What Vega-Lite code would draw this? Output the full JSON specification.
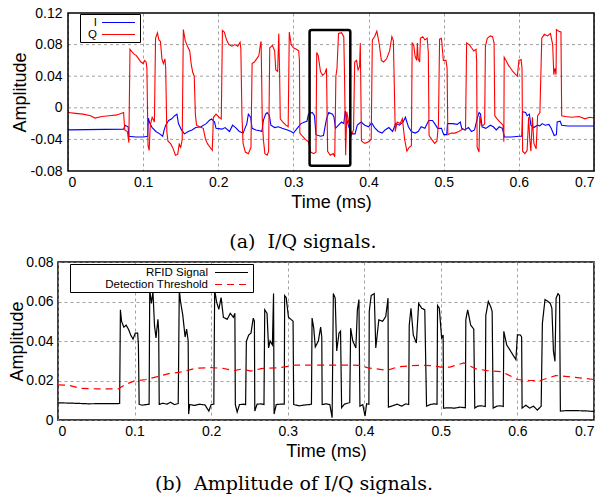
{
"$schema": "https://vega.github.io/schema/vega-lite/v6.json",
"background": "white",
"padding": {"left": 7, "top": 6, "right": 0, "bottom": 0},
"columns": 1,
"spacing": 2,
"resolve": {"scale": {"color": "independent", "strokeDash": "independent"}, "legend": {"color": "independent", "strokeDash": "independent"}},
"config": {
  "view": {"stroke": "black", "strokeWidth": 1.5},
  "axis": {"labelFont": "Liberation Sans", "labelFontSize": 14, "labelColor": "black", "titleFont": "Liberation Sans", "titleFontSize": 18, "titleFontWeight": "normal", "titleColor": "black", "domain": false, "ticks": false, "tickSize": 0, "labelOverlap": false, "grid": true, "gridColor": "#8a8a8a", "gridDash": [3, 3], "gridWidth": 0.8, "labelPadding": 4},
  "legend": {"labelFont": "Liberation Sans", "labelFontSize": 11.5, "labelColor": "black", "fillColor": "white", "strokeColor": "black", "padding": 2, "rowPadding": 0, "symbolType": "M-3,0H3", "symbolSize": 121, "symbolStrokeWidth": 1.2, "labelAlign": "right", "title": null},
  "title": {"font": "DejaVu Serif", "fontSize": 19, "fontWeight": "normal", "color": "black", "orient": "bottom", "frame": "bounds", "anchor": "middle"}
},
"datasets": {
  "iq": [
{"t":0,"v":-0.028,"s":"I"},{"t":0.074,"v":-0.027,"s":"I"},{"t":0.076,"v":-0.022,"s":"I"},{"t":0.080,"v":-0.024,"s":"I"},{"t":0.081,"v":-0.036,"s":"I"},{"t":0.090,"v":-0.037,"s":"I"},{"t":0.100,"v":-0.037,"s":"I"},{"t":0.106,"v":-0.036,"s":"I"},{"t":0.107,"v":-0.013,"s":"I"},{"t":0.109,"v":-0.020,"s":"I"},{"t":0.112,"v":-0.025,"s":"I"},{"t":0.117,"v":-0.030,"s":"I"},{"t":0.122,"v":-0.033,"s":"I"},{"t":0.126,"v":-0.036,"s":"I"},{"t":0.128,"v":-0.028,"s":"I"},{"t":0.130,"v":-0.022,"s":"I"},{"t":0.134,"v":-0.016,"s":"I"},{"t":0.138,"v":-0.014,"s":"I"},{"t":0.142,"v":-0.010,"s":"I"},{"t":0.145,"v":-0.008,"s":"I"},{"t":0.147,"v":-0.020,"s":"I"},{"t":0.151,"v":-0.028,"s":"I"},{"t":0.155,"v":-0.033,"s":"I"},{"t":0.160,"v":-0.030,"s":"I"},{"t":0.165,"v":-0.028,"s":"I"},{"t":0.170,"v":-0.025,"s":"I"},{"t":0.177,"v":-0.024,"s":"I"},{"t":0.184,"v":-0.020,"s":"I"},{"t":0.188,"v":-0.016,"s":"I"},{"t":0.191,"v":-0.014,"s":"I"},{"t":0.195,"v":-0.018,"s":"I"},{"t":0.197,"v":-0.026,"s":"I"},{"t":0.205,"v":-0.027,"s":"I"},{"t":0.209,"v":-0.025,"s":"I"},{"t":0.215,"v":-0.030,"s":"I"},{"t":0.219,"v":-0.022,"s":"I"},{"t":0.223,"v":-0.025,"s":"I"},{"t":0.228,"v":-0.030,"s":"I"},{"t":0.233,"v":-0.032,"s":"I"},{"t":0.238,"v":-0.020,"s":"I"},{"t":0.240,"v":-0.008,"s":"I"},{"t":0.243,"v":-0.012,"s":"I"},{"t":0.245,"v":-0.026,"s":"I"},{"t":0.250,"v":-0.028,"s":"I"},{"t":0.255,"v":-0.029,"s":"I"},{"t":0.258,"v":-0.030,"s":"I"},{"t":0.260,"v":-0.016,"s":"I"},{"t":0.263,"v":-0.008,"s":"I"},{"t":0.265,"v":-0.006,"s":"I"},{"t":0.268,"v":-0.010,"s":"I"},{"t":0.270,"v":-0.022,"s":"I"},{"t":0.275,"v":-0.025,"s":"I"},{"t":0.280,"v":-0.024,"s":"I"},{"t":0.285,"v":-0.026,"s":"I"},{"t":0.292,"v":-0.028,"s":"I"},{"t":0.297,"v":-0.030,"s":"I"},{"t":0.300,"v":-0.032,"s":"I"},{"t":0.305,"v":-0.026,"s":"I"},{"t":0.310,"v":-0.020,"s":"I"},{"t":0.315,"v":-0.018,"s":"I"},{"t":0.318,"v":-0.017,"s":"I"},{"t":0.320,"v":-0.008,"s":"I"},{"t":0.325,"v":-0.006,"s":"I"},{"t":0.328,"v":-0.010,"s":"I"},{"t":0.330,"v":-0.034,"s":"I"},{"t":0.336,"v":-0.036,"s":"I"},{"t":0.340,"v":-0.035,"s":"I"},{"t":0.344,"v":-0.014,"s":"I"},{"t":0.347,"v":-0.006,"s":"I"},{"t":0.352,"v":-0.008,"s":"I"},{"t":0.354,"v":-0.012,"s":"I"},{"t":0.356,"v":-0.026,"s":"I"},{"t":0.360,"v":-0.022,"s":"I"},{"t":0.364,"v":-0.018,"s":"I"},{"t":0.367,"v":-0.020,"s":"I"},{"t":0.369,"v":-0.004,"s":"I"},{"t":0.371,"v":-0.015,"s":"I"},{"t":0.374,"v":-0.025,"s":"I"},{"t":0.378,"v":-0.033,"s":"I"},{"t":0.382,"v":-0.033,"s":"I"},{"t":0.385,"v":-0.022,"s":"I"},{"t":0.390,"v":-0.018,"s":"I"},{"t":0.395,"v":-0.022,"s":"I"},{"t":0.400,"v":-0.024,"s":"I"},{"t":0.404,"v":-0.019,"s":"I"},{"t":0.408,"v":-0.025,"s":"I"},{"t":0.413,"v":-0.030,"s":"I"},{"t":0.418,"v":-0.032,"s":"I"},{"t":0.422,"v":-0.028,"s":"I"},{"t":0.427,"v":-0.025,"s":"I"},{"t":0.432,"v":-0.030,"s":"I"},{"t":0.436,"v":-0.020,"s":"I"},{"t":0.441,"v":-0.022,"s":"I"},{"t":0.446,"v":-0.018,"s":"I"},{"t":0.449,"v":-0.012,"s":"I"},{"t":0.453,"v":-0.024,"s":"I"},{"t":0.457,"v":-0.030,"s":"I"},{"t":0.462,"v":-0.032,"s":"I"},{"t":0.466,"v":-0.030,"s":"I"},{"t":0.470,"v":-0.024,"s":"I"},{"t":0.475,"v":-0.026,"s":"I"},{"t":0.480,"v":-0.016,"s":"I"},{"t":0.485,"v":-0.016,"s":"I"},{"t":0.488,"v":-0.020,"s":"I"},{"t":0.492,"v":-0.026,"s":"I"},{"t":0.497,"v":-0.026,"s":"I"},{"t":0.500,"v":-0.034,"s":"I"},{"t":0.504,"v":-0.034,"s":"I"},{"t":0.505,"v":-0.020,"s":"I"},{"t":0.512,"v":-0.020,"s":"I"},{"t":0.518,"v":-0.021,"s":"I"},{"t":0.522,"v":-0.018,"s":"I"},{"t":0.524,"v":-0.026,"s":"I"},{"t":0.528,"v":-0.028,"s":"I"},{"t":0.533,"v":-0.025,"s":"I"},{"t":0.537,"v":-0.030,"s":"I"},{"t":0.541,"v":-0.028,"s":"I"},{"t":0.545,"v":-0.012,"s":"I"},{"t":0.547,"v":-0.006,"s":"I"},{"t":0.549,"v":-0.008,"s":"I"},{"t":0.551,"v":-0.024,"s":"I"},{"t":0.556,"v":-0.026,"s":"I"},{"t":0.562,"v":-0.022,"s":"I"},{"t":0.566,"v":-0.024,"s":"I"},{"t":0.570,"v":-0.028,"s":"I"},{"t":0.574,"v":-0.024,"s":"I"},{"t":0.578,"v":-0.026,"s":"I"},{"t":0.581,"v":-0.037,"s":"I"},{"t":0.590,"v":-0.037,"s":"I"},{"t":0.600,"v":-0.036,"s":"I"},{"t":0.604,"v":-0.036,"s":"I"},{"t":0.605,"v":-0.005,"s":"I"},{"t":0.609,"v":-0.006,"s":"I"},{"t":0.611,"v":-0.010,"s":"I"},{"t":0.614,"v":-0.008,"s":"I"},{"t":0.616,"v":-0.022,"s":"I"},{"t":0.620,"v":-0.025,"s":"I"},{"t":0.625,"v":-0.022,"s":"I"},{"t":0.628,"v":-0.023,"s":"I"},{"t":0.631,"v":-0.020,"s":"I"},{"t":0.635,"v":-0.022,"s":"I"},{"t":0.640,"v":-0.021,"s":"I"},{"t":0.643,"v":-0.026,"s":"I"},{"t":0.647,"v":-0.035,"s":"I"},{"t":0.650,"v":-0.034,"s":"I"},{"t":0.651,"v":-0.018,"s":"I"},{"t":0.655,"v":-0.017,"s":"I"},{"t":0.657,"v":-0.022,"s":"I"},{"t":0.665,"v":-0.023,"s":"I"},{"t":0.680,"v":-0.023,"s":"I"},{"t":0.700,"v":-0.023,"s":"I"},
{"t":0,"v":-0.006,"s":"Q"},{"t":0.010,"v":-0.007,"s":"Q"},{"t":0.020,"v":-0.008,"s":"Q"},{"t":0.030,"v":-0.010,"s":"Q"},{"t":0.036,"v":-0.013,"s":"Q"},{"t":0.045,"v":-0.011,"s":"Q"},{"t":0.055,"v":-0.010,"s":"Q"},{"t":0.065,"v":-0.009,"s":"Q"},{"t":0.074,"v":-0.006,"s":"Q"},{"t":0.0755,"v":-0.028,"s":"Q"},{"t":0.079,"v":-0.030,"s":"Q"},{"t":0.081,"v":-0.044,"s":"Q"},{"t":0.0825,"v":0.074,"s":"Q"},{"t":0.085,"v":0.071,"s":"Q"},{"t":0.088,"v":0.068,"s":"Q"},{"t":0.091,"v":0.066,"s":"Q"},{"t":0.094,"v":0.062,"s":"Q"},{"t":0.097,"v":0.058,"s":"Q"},{"t":0.100,"v":0.056,"s":"Q"},{"t":0.102,"v":0.060,"s":"Q"},{"t":0.104,"v":0.058,"s":"Q"},{"t":0.105,"v":0.050,"s":"Q"},{"t":0.1065,"v":-0.048,"s":"Q"},{"t":0.108,"v":-0.054,"s":"Q"},{"t":0.1095,"v":-0.022,"s":"Q"},{"t":0.112,"v":-0.012,"s":"Q"},{"t":0.115,"v":-0.018,"s":"Q"},{"t":0.1165,"v":0.088,"s":"Q"},{"t":0.119,"v":0.095,"s":"Q"},{"t":0.121,"v":0.086,"s":"Q"},{"t":0.123,"v":0.084,"s":"Q"},{"t":0.125,"v":0.062,"s":"Q"},{"t":0.127,"v":0.056,"s":"Q"},{"t":0.129,"v":0.062,"s":"Q"},{"t":0.130,"v":0.050,"s":"Q"},{"t":0.1315,"v":-0.030,"s":"Q"},{"t":0.133,"v":-0.042,"s":"Q"},{"t":0.137,"v":-0.046,"s":"Q"},{"t":0.140,"v":-0.052,"s":"Q"},{"t":0.143,"v":-0.060,"s":"Q"},{"t":0.146,"v":-0.059,"s":"Q"},{"t":0.148,"v":-0.046,"s":"Q"},{"t":0.150,"v":-0.050,"s":"Q"},{"t":0.152,"v":-0.040,"s":"Q"},{"t":0.1535,"v":0.099,"s":"Q"},{"t":0.156,"v":0.085,"s":"Q"},{"t":0.159,"v":0.078,"s":"Q"},{"t":0.162,"v":0.072,"s":"Q"},{"t":0.164,"v":0.055,"s":"Q"},{"t":0.166,"v":0.045,"s":"Q"},{"t":0.168,"v":0.040,"s":"Q"},{"t":0.1695,"v":-0.008,"s":"Q"},{"t":0.171,"v":-0.022,"s":"Q"},{"t":0.175,"v":-0.024,"s":"Q"},{"t":0.180,"v":-0.026,"s":"Q"},{"t":0.183,"v":-0.040,"s":"Q"},{"t":0.186,"v":-0.046,"s":"Q"},{"t":0.189,"v":-0.050,"s":"Q"},{"t":0.192,"v":-0.054,"s":"Q"},{"t":0.1935,"v":-0.012,"s":"Q"},{"t":0.197,"v":-0.008,"s":"Q"},{"t":0.201,"v":-0.012,"s":"Q"},{"t":0.204,"v":-0.014,"s":"Q"},{"t":0.2055,"v":0.098,"s":"Q"},{"t":0.208,"v":0.096,"s":"Q"},{"t":0.211,"v":0.086,"s":"Q"},{"t":0.214,"v":0.080,"s":"Q"},{"t":0.218,"v":0.078,"s":"Q"},{"t":0.222,"v":0.080,"s":"Q"},{"t":0.226,"v":0.078,"s":"Q"},{"t":0.229,"v":0.083,"s":"Q"},{"t":0.230,"v":0.075,"s":"Q"},{"t":0.2315,"v":-0.010,"s":"Q"},{"t":0.233,"v":-0.045,"s":"Q"},{"t":0.236,"v":-0.056,"s":"Q"},{"t":0.240,"v":-0.058,"s":"Q"},{"t":0.2435,"v":-0.050,"s":"Q"},{"t":0.245,"v":0.056,"s":"Q"},{"t":0.248,"v":0.058,"s":"Q"},{"t":0.251,"v":0.062,"s":"Q"},{"t":0.254,"v":0.066,"s":"Q"},{"t":0.256,"v":0.080,"s":"Q"},{"t":0.257,"v":0.084,"s":"Q"},{"t":0.2585,"v":-0.014,"s":"Q"},{"t":0.260,"v":-0.040,"s":"Q"},{"t":0.262,"v":-0.058,"s":"Q"},{"t":0.265,"v":-0.060,"s":"Q"},{"t":0.267,"v":-0.055,"s":"Q"},{"t":0.2685,"v":0.076,"s":"Q"},{"t":0.272,"v":0.079,"s":"Q"},{"t":0.275,"v":0.072,"s":"Q"},{"t":0.2765,"v":0.048,"s":"Q"},{"t":0.279,"v":0.046,"s":"Q"},{"t":0.2805,"v":0.094,"s":"Q"},{"t":0.2815,"v":0.050,"s":"Q"},{"t":0.2825,"v":-0.014,"s":"Q"},{"t":0.286,"v":-0.018,"s":"Q"},{"t":0.290,"v":-0.022,"s":"Q"},{"t":0.293,"v":-0.024,"s":"Q"},{"t":0.2945,"v":0.096,"s":"Q"},{"t":0.297,"v":0.080,"s":"Q"},{"t":0.300,"v":0.076,"s":"Q"},{"t":0.304,"v":0.074,"s":"Q"},{"t":0.307,"v":0.072,"s":"Q"},{"t":0.308,"v":0.060,"s":"Q"},{"t":0.3085,"v":-0.032,"s":"Q"},{"t":0.312,"v":-0.036,"s":"Q"},{"t":0.316,"v":-0.040,"s":"Q"},{"t":0.320,"v":-0.043,"s":"Q"},{"t":0.323,"v":-0.056,"s":"Q"},{"t":0.327,"v":-0.058,"s":"Q"},{"t":0.330,"v":-0.056,"s":"Q"},{"t":0.331,"v":0.070,"s":"Q"},{"t":0.333,"v":0.066,"s":"Q"},{"t":0.336,"v":0.046,"s":"Q"},{"t":0.339,"v":0.041,"s":"Q"},{"t":0.342,"v":0.044,"s":"Q"},{"t":0.344,"v":0.050,"s":"Q"},{"t":0.3455,"v":-0.055,"s":"Q"},{"t":0.349,"v":-0.060,"s":"Q"},{"t":0.353,"v":-0.058,"s":"Q"},{"t":0.355,"v":-0.062,"s":"Q"},{"t":0.3565,"v":0.040,"s":"Q"},{"t":0.358,"v":0.050,"s":"Q"},{"t":0.360,"v":0.094,"s":"Q"},{"t":0.364,"v":0.095,"s":"Q"},{"t":0.367,"v":0.090,"s":"Q"},{"t":0.368,"v":0.040,"s":"Q"},{"t":0.3695,"v":-0.060,"s":"Q"},{"t":0.371,"v":-0.005,"s":"Q"},{"t":0.374,"v":-0.020,"s":"Q"},{"t":0.377,"v":-0.035,"s":"Q"},{"t":0.380,"v":-0.028,"s":"Q"},{"t":0.3815,"v":0.058,"s":"Q"},{"t":0.384,"v":0.060,"s":"Q"},{"t":0.386,"v":0.048,"s":"Q"},{"t":0.388,"v":0.052,"s":"Q"},{"t":0.389,"v":0.082,"s":"Q"},{"t":0.3905,"v":-0.042,"s":"Q"},{"t":0.395,"v":-0.045,"s":"Q"},{"t":0.400,"v":-0.043,"s":"Q"},{"t":0.4035,"v":-0.040,"s":"Q"},{"t":0.405,"v":0.086,"s":"Q"},{"t":0.408,"v":0.090,"s":"Q"},{"t":0.411,"v":0.097,"s":"Q"},{"t":0.414,"v":0.082,"s":"Q"},{"t":0.417,"v":0.060,"s":"Q"},{"t":0.420,"v":0.058,"s":"Q"},{"t":0.424,"v":0.062,"s":"Q"},{"t":0.428,"v":0.072,"s":"Q"},{"t":0.431,"v":0.090,"s":"Q"},{"t":0.433,"v":0.085,"s":"Q"},{"t":0.4355,"v":-0.030,"s":"Q"},{"t":0.438,"v":-0.018,"s":"Q"},{"t":0.442,"v":-0.020,"s":"Q"},{"t":0.445,"v":-0.014,"s":"Q"},{"t":0.448,"v":-0.040,"s":"Q"},{"t":0.451,"v":-0.055,"s":"Q"},{"t":0.454,"v":-0.050,"s":"Q"},{"t":0.457,"v":-0.048,"s":"Q"},{"t":0.458,"v":0.082,"s":"Q"},{"t":0.460,"v":0.080,"s":"Q"},{"t":0.462,"v":0.065,"s":"Q"},{"t":0.464,"v":0.060,"s":"Q"},{"t":0.465,"v":0.082,"s":"Q"},{"t":0.466,"v":0.062,"s":"Q"},{"t":0.468,"v":0.058,"s":"Q"},{"t":0.469,"v":0.088,"s":"Q"},{"t":0.472,"v":0.090,"s":"Q"},{"t":0.475,"v":0.086,"s":"Q"},{"t":0.478,"v":0.088,"s":"Q"},{"t":0.4795,"v":0.070,"s":"Q"},{"t":0.4805,"v":-0.035,"s":"Q"},{"t":0.484,"v":-0.040,"s":"Q"},{"t":0.488,"v":-0.045,"s":"Q"},{"t":0.491,"v":-0.042,"s":"Q"},{"t":0.493,"v":-0.020,"s":"Q"},{"t":0.4945,"v":0.087,"s":"Q"},{"t":0.497,"v":0.088,"s":"Q"},{"t":0.4995,"v":0.060,"s":"Q"},{"t":0.503,"v":0.060,"s":"Q"},{"t":0.5045,"v":0.050,"s":"Q"},{"t":0.5055,"v":-0.034,"s":"Q"},{"t":0.510,"v":-0.032,"s":"Q"},{"t":0.515,"v":-0.032,"s":"Q"},{"t":0.520,"v":-0.030,"s":"Q"},{"t":0.525,"v":-0.027,"s":"Q"},{"t":0.529,"v":-0.028,"s":"Q"},{"t":0.5305,"v":0.082,"s":"Q"},{"t":0.534,"v":0.080,"s":"Q"},{"t":0.537,"v":0.076,"s":"Q"},{"t":0.540,"v":0.072,"s":"Q"},{"t":0.543,"v":0.074,"s":"Q"},{"t":0.5438,"v":0.060,"s":"Q"},{"t":0.5445,"v":-0.050,"s":"Q"},{"t":0.547,"v":-0.056,"s":"Q"},{"t":0.548,"v":-0.010,"s":"Q"},{"t":0.550,"v":-0.022,"s":"Q"},{"t":0.553,"v":-0.022,"s":"Q"},{"t":0.5545,"v":-0.020,"s":"Q"},{"t":0.5555,"v":0.078,"s":"Q"},{"t":0.558,"v":0.088,"s":"Q"},{"t":0.562,"v":0.091,"s":"Q"},{"t":0.565,"v":0.090,"s":"Q"},{"t":0.567,"v":0.082,"s":"Q"},{"t":0.568,"v":-0.010,"s":"Q"},{"t":0.571,"v":-0.014,"s":"Q"},{"t":0.575,"v":-0.018,"s":"Q"},{"t":0.579,"v":-0.022,"s":"Q"},{"t":0.580,"v":-0.043,"s":"Q"},{"t":0.5805,"v":0.064,"s":"Q"},{"t":0.583,"v":0.060,"s":"Q"},{"t":0.586,"v":0.054,"s":"Q"},{"t":0.589,"v":0.050,"s":"Q"},{"t":0.592,"v":0.046,"s":"Q"},{"t":0.595,"v":0.043,"s":"Q"},{"t":0.598,"v":0.040,"s":"Q"},{"t":0.600,"v":0.060,"s":"Q"},{"t":0.603,"v":0.061,"s":"Q"},{"t":0.6042,"v":0.050,"s":"Q"},{"t":0.605,"v":-0.055,"s":"Q"},{"t":0.608,"v":-0.058,"s":"Q"},{"t":0.611,"v":-0.054,"s":"Q"},{"t":0.613,"v":-0.012,"s":"Q"},{"t":0.6145,"v":-0.040,"s":"Q"},{"t":0.616,"v":-0.055,"s":"Q"},{"t":0.618,"v":-0.012,"s":"Q"},{"t":0.620,"v":-0.045,"s":"Q"},{"t":0.623,"v":-0.052,"s":"Q"},{"t":0.625,"v":-0.010,"s":"Q"},{"t":0.628,"v":-0.006,"s":"Q"},{"t":0.6305,"v":0.088,"s":"Q"},{"t":0.634,"v":0.093,"s":"Q"},{"t":0.638,"v":0.091,"s":"Q"},{"t":0.642,"v":0.094,"s":"Q"},{"t":0.645,"v":0.080,"s":"Q"},{"t":0.6465,"v":0.042,"s":"Q"},{"t":0.648,"v":0.050,"s":"Q"},{"t":0.6495,"v":0.042,"s":"Q"},{"t":0.650,"v":0.099,"s":"Q"},{"t":0.653,"v":0.097,"s":"Q"},{"t":0.656,"v":0.096,"s":"Q"},{"t":0.657,"v":-0.010,"s":"Q"},{"t":0.662,"v":-0.011,"s":"Q"},{"t":0.670,"v":-0.012,"s":"Q"},{"t":0.680,"v":-0.011,"s":"Q"},{"t":0.688,"v":-0.014,"s":"Q"},{"t":0.694,"v":-0.012,"s":"Q"},{"t":0.700,"v":-0.013,"s":"Q"}
  ],
  "box": [{"t0": 0.3215, "t1": 0.3757, "a0": -0.0735, "a1": 0.0985}],
  "frame": [{"t0": 0, "t1": 0.7, "a0": -0.08, "a1": 0.12}],
  "ygrid": [{"g": -0.04}, {"g": 0}, {"g": 0.04}, {"g": 0.08}],
  "amp": [
{"t":0,"v":0.0087,"s":"RFID Signal"},{"t":0.02,"v":0.0085,"s":"RFID Signal"},{"t":0.04,"v":0.0082,"s":"RFID Signal"},{"t":0.06,"v":0.0083,"s":"RFID Signal"},{"t":0.079,"v":0.0083,"s":"RFID Signal"},{"t":0.0805,"v":0.0084,"s":"RFID Signal"},{"t":0.0815,"v":0.0558,"s":"RFID Signal"},{"t":0.083,"v":0.050,"s":"RFID Signal"},{"t":0.086,"v":0.047,"s":"RFID Signal"},{"t":0.089,"v":0.048,"s":"RFID Signal"},{"t":0.092,"v":0.046,"s":"RFID Signal"},{"t":0.095,"v":0.043,"s":"RFID Signal"},{"t":0.098,"v":0.041,"s":"RFID Signal"},{"t":0.101,"v":0.044,"s":"RFID Signal"},{"t":0.104,"v":0.044,"s":"RFID Signal"},{"t":0.105,"v":0.038,"s":"RFID Signal"},{"t":0.106,"v":0.0079,"s":"RFID Signal"},{"t":0.110,"v":0.0075,"s":"RFID Signal"},{"t":0.115,"v":0.0078,"s":"RFID Signal"},{"t":0.119,"v":0.0080,"s":"RFID Signal"},{"t":0.1198,"v":0.0658,"s":"RFID Signal"},{"t":0.122,"v":0.059,"s":"RFID Signal"},{"t":0.124,"v":0.065,"s":"RFID Signal"},{"t":0.126,"v":0.048,"s":"RFID Signal"},{"t":0.128,"v":0.0415,"s":"RFID Signal"},{"t":0.1305,"v":0.051,"s":"RFID Signal"},{"t":0.1315,"v":0.045,"s":"RFID Signal"},{"t":0.1322,"v":0.0079,"s":"RFID Signal"},{"t":0.137,"v":0.0085,"s":"RFID Signal"},{"t":0.142,"v":0.0080,"s":"RFID Signal"},{"t":0.147,"v":0.0090,"s":"RFID Signal"},{"t":0.152,"v":0.0078,"s":"RFID Signal"},{"t":0.157,"v":0.0083,"s":"RFID Signal"},{"t":0.1584,"v":0.066,"s":"RFID Signal"},{"t":0.160,"v":0.060,"s":"RFID Signal"},{"t":0.163,"v":0.053,"s":"RFID Signal"},{"t":0.166,"v":0.042,"s":"RFID Signal"},{"t":0.168,"v":0.046,"s":"RFID Signal"},{"t":0.170,"v":0.040,"s":"RFID Signal"},{"t":0.1706,"v":0.0030,"s":"RFID Signal"},{"t":0.172,"v":0.0078,"s":"RFID Signal"},{"t":0.178,"v":0.0074,"s":"RFID Signal"},{"t":0.185,"v":0.0080,"s":"RFID Signal"},{"t":0.192,"v":0.0076,"s":"RFID Signal"},{"t":0.197,"v":0.0045,"s":"RFID Signal"},{"t":0.200,"v":0.0078,"s":"RFID Signal"},{"t":0.2035,"v":0.0080,"s":"RFID Signal"},{"t":0.2046,"v":0.066,"s":"RFID Signal"},{"t":0.207,"v":0.060,"s":"RFID Signal"},{"t":0.210,"v":0.056,"s":"RFID Signal"},{"t":0.213,"v":0.062,"s":"RFID Signal"},{"t":0.216,"v":0.052,"s":"RFID Signal"},{"t":0.221,"v":0.051,"s":"RFID Signal"},{"t":0.225,"v":0.054,"s":"RFID Signal"},{"t":0.229,"v":0.052,"s":"RFID Signal"},{"t":0.231,"v":0.054,"s":"RFID Signal"},{"t":0.2316,"v":0.0078,"s":"RFID Signal"},{"t":0.234,"v":0.0040,"s":"RFID Signal"},{"t":0.237,"v":0.0078,"s":"RFID Signal"},{"t":0.242,"v":0.0080,"s":"RFID Signal"},{"t":0.245,"v":0.0078,"s":"RFID Signal"},{"t":0.246,"v":0.0398,"s":"RFID Signal"},{"t":0.249,"v":0.043,"s":"RFID Signal"},{"t":0.252,"v":0.044,"s":"RFID Signal"},{"t":0.255,"v":0.0516,"s":"RFID Signal"},{"t":0.2565,"v":0.050,"s":"RFID Signal"},{"t":0.257,"v":0.0045,"s":"RFID Signal"},{"t":0.260,"v":0.0080,"s":"RFID Signal"},{"t":0.265,"v":0.0082,"s":"RFID Signal"},{"t":0.269,"v":0.0078,"s":"RFID Signal"},{"t":0.270,"v":0.0558,"s":"RFID Signal"},{"t":0.273,"v":0.054,"s":"RFID Signal"},{"t":0.275,"v":0.0365,"s":"RFID Signal"},{"t":0.277,"v":0.040,"s":"RFID Signal"},{"t":0.280,"v":0.038,"s":"RFID Signal"},{"t":0.2815,"v":0.064,"s":"RFID Signal"},{"t":0.2822,"v":0.0030,"s":"RFID Signal"},{"t":0.285,"v":0.0078,"s":"RFID Signal"},{"t":0.290,"v":0.0080,"s":"RFID Signal"},{"t":0.2955,"v":0.0080,"s":"RFID Signal"},{"t":0.296,"v":0.063,"s":"RFID Signal"},{"t":0.298,"v":0.062,"s":"RFID Signal"},{"t":0.301,"v":0.052,"s":"RFID Signal"},{"t":0.305,"v":0.0507,"s":"RFID Signal"},{"t":0.307,"v":0.050,"s":"RFID Signal"},{"t":0.3078,"v":0.0078,"s":"RFID Signal"},{"t":0.315,"v":0.0072,"s":"RFID Signal"},{"t":0.322,"v":0.0076,"s":"RFID Signal"},{"t":0.328,"v":0.0078,"s":"RFID Signal"},{"t":0.331,"v":0.0080,"s":"RFID Signal"},{"t":0.3318,"v":0.0516,"s":"RFID Signal"},{"t":0.334,"v":0.0465,"s":"RFID Signal"},{"t":0.336,"v":0.037,"s":"RFID Signal"},{"t":0.340,"v":0.040,"s":"RFID Signal"},{"t":0.343,"v":0.047,"s":"RFID Signal"},{"t":0.3445,"v":0.042,"s":"RFID Signal"},{"t":0.345,"v":0.0078,"s":"RFID Signal"},{"t":0.350,"v":0.0082,"s":"RFID Signal"},{"t":0.355,"v":0.0078,"s":"RFID Signal"},{"t":0.358,"v":0.0012,"s":"RFID Signal"},{"t":0.3596,"v":0.064,"s":"RFID Signal"},{"t":0.362,"v":0.0617,"s":"RFID Signal"},{"t":0.364,"v":0.035,"s":"RFID Signal"},{"t":0.367,"v":0.044,"s":"RFID Signal"},{"t":0.369,"v":0.045,"s":"RFID Signal"},{"t":0.3704,"v":0.0062,"s":"RFID Signal"},{"t":0.374,"v":0.0080,"s":"RFID Signal"},{"t":0.378,"v":0.0085,"s":"RFID Signal"},{"t":0.381,"v":0.0088,"s":"RFID Signal"},{"t":0.3822,"v":0.0465,"s":"RFID Signal"},{"t":0.385,"v":0.040,"s":"RFID Signal"},{"t":0.389,"v":0.0365,"s":"RFID Signal"},{"t":0.391,"v":0.0558,"s":"RFID Signal"},{"t":0.393,"v":0.061,"s":"RFID Signal"},{"t":0.3943,"v":0.0070,"s":"RFID Signal"},{"t":0.398,"v":0.0078,"s":"RFID Signal"},{"t":0.401,"v":0.0020,"s":"RFID Signal"},{"t":0.403,"v":0.0082,"s":"RFID Signal"},{"t":0.406,"v":0.0080,"s":"RFID Signal"},{"t":0.4065,"v":0.055,"s":"RFID Signal"},{"t":0.409,"v":0.063,"s":"RFID Signal"},{"t":0.413,"v":0.064,"s":"RFID Signal"},{"t":0.415,"v":0.0365,"s":"RFID Signal"},{"t":0.419,"v":0.0507,"s":"RFID Signal"},{"t":0.424,"v":0.050,"s":"RFID Signal"},{"t":0.428,"v":0.0524,"s":"RFID Signal"},{"t":0.431,"v":0.0617,"s":"RFID Signal"},{"t":0.4315,"v":0.0065,"s":"RFID Signal"},{"t":0.437,"v":0.0072,"s":"RFID Signal"},{"t":0.443,"v":0.0080,"s":"RFID Signal"},{"t":0.449,"v":0.0070,"s":"RFID Signal"},{"t":0.454,"v":0.0082,"s":"RFID Signal"},{"t":0.458,"v":0.0078,"s":"RFID Signal"},{"t":0.4587,"v":0.048,"s":"RFID Signal"},{"t":0.461,"v":0.0566,"s":"RFID Signal"},{"t":0.464,"v":0.043,"s":"RFID Signal"},{"t":0.468,"v":0.039,"s":"RFID Signal"},{"t":0.471,"v":0.059,"s":"RFID Signal"},{"t":0.475,"v":0.0566,"s":"RFID Signal"},{"t":0.479,"v":0.0558,"s":"RFID Signal"},{"t":0.4813,"v":0.0070,"s":"RFID Signal"},{"t":0.486,"v":0.0078,"s":"RFID Signal"},{"t":0.491,"v":0.0082,"s":"RFID Signal"},{"t":0.495,"v":0.0080,"s":"RFID Signal"},{"t":0.4957,"v":0.058,"s":"RFID Signal"},{"t":0.498,"v":0.0566,"s":"RFID Signal"},{"t":0.501,"v":0.0415,"s":"RFID Signal"},{"t":0.503,"v":0.043,"s":"RFID Signal"},{"t":0.5035,"v":0.0060,"s":"RFID Signal"},{"t":0.510,"v":0.0062,"s":"RFID Signal"},{"t":0.518,"v":0.0060,"s":"RFID Signal"},{"t":0.525,"v":0.0065,"s":"RFID Signal"},{"t":0.532,"v":0.0062,"s":"RFID Signal"},{"t":0.5326,"v":0.0507,"s":"RFID Signal"},{"t":0.535,"v":0.0558,"s":"RFID Signal"},{"t":0.539,"v":0.048,"s":"RFID Signal"},{"t":0.543,"v":0.046,"s":"RFID Signal"},{"t":0.5443,"v":0.0060,"s":"RFID Signal"},{"t":0.548,"v":0.0070,"s":"RFID Signal"},{"t":0.553,"v":0.0072,"s":"RFID Signal"},{"t":0.558,"v":0.0068,"s":"RFID Signal"},{"t":0.5587,"v":0.053,"s":"RFID Signal"},{"t":0.562,"v":0.060,"s":"RFID Signal"},{"t":0.565,"v":0.0575,"s":"RFID Signal"},{"t":0.567,"v":0.055,"s":"RFID Signal"},{"t":0.5683,"v":0.0060,"s":"RFID Signal"},{"t":0.573,"v":0.0070,"s":"RFID Signal"},{"t":0.578,"v":0.0072,"s":"RFID Signal"},{"t":0.5815,"v":0.0068,"s":"RFID Signal"},{"t":0.5822,"v":0.0449,"s":"RFID Signal"},{"t":0.586,"v":0.038,"s":"RFID Signal"},{"t":0.590,"v":0.0356,"s":"RFID Signal"},{"t":0.594,"v":0.033,"s":"RFID Signal"},{"t":0.598,"v":0.0306,"s":"RFID Signal"},{"t":0.600,"v":0.0432,"s":"RFID Signal"},{"t":0.604,"v":0.043,"s":"RFID Signal"},{"t":0.6055,"v":0.042,"s":"RFID Signal"},{"t":0.6061,"v":0.0060,"s":"RFID Signal"},{"t":0.611,"v":0.0075,"s":"RFID Signal"},{"t":0.616,"v":0.0060,"s":"RFID Signal"},{"t":0.621,"v":0.0070,"s":"RFID Signal"},{"t":0.626,"v":0.0050,"s":"RFID Signal"},{"t":0.631,"v":0.0070,"s":"RFID Signal"},{"t":0.6326,"v":0.049,"s":"RFID Signal"},{"t":0.636,"v":0.061,"s":"RFID Signal"},{"t":0.640,"v":0.060,"s":"RFID Signal"},{"t":0.643,"v":0.059,"s":"RFID Signal"},{"t":0.645,"v":0.0566,"s":"RFID Signal"},{"t":0.647,"v":0.035,"s":"RFID Signal"},{"t":0.649,"v":0.0297,"s":"RFID Signal"},{"t":0.6505,"v":0.0617,"s":"RFID Signal"},{"t":0.653,"v":0.064,"s":"RFID Signal"},{"t":0.655,"v":0.063,"s":"RFID Signal"},{"t":0.6561,"v":0.0045,"s":"RFID Signal"},{"t":0.665,"v":0.0048,"s":"RFID Signal"},{"t":0.680,"v":0.0047,"s":"RFID Signal"},{"t":0.690,"v":0.0046,"s":"RFID Signal"},{"t":0.700,"v":0.0043,"s":"RFID Signal"},
{"t":0,"v":0.0178,"s":"Detection Threshold"},{"t":0.015,"v":0.0175,"s":"Detection Threshold"},{"t":0.03,"v":0.016,"s":"Detection Threshold"},{"t":0.05,"v":0.0158,"s":"Detection Threshold"},{"t":0.079,"v":0.0158,"s":"Detection Threshold"},{"t":0.088,"v":0.018,"s":"Detection Threshold"},{"t":0.100,"v":0.0198,"s":"Detection Threshold"},{"t":0.115,"v":0.0205,"s":"Detection Threshold"},{"t":0.130,"v":0.022,"s":"Detection Threshold"},{"t":0.145,"v":0.0235,"s":"Detection Threshold"},{"t":0.162,"v":0.0244,"s":"Detection Threshold"},{"t":0.180,"v":0.0262,"s":"Detection Threshold"},{"t":0.200,"v":0.0265,"s":"Detection Threshold"},{"t":0.215,"v":0.0262,"s":"Detection Threshold"},{"t":0.230,"v":0.025,"s":"Detection Threshold"},{"t":0.240,"v":0.0258,"s":"Detection Threshold"},{"t":0.252,"v":0.0248,"s":"Detection Threshold"},{"t":0.265,"v":0.026,"s":"Detection Threshold"},{"t":0.290,"v":0.0265,"s":"Detection Threshold"},{"t":0.310,"v":0.0278,"s":"Detection Threshold"},{"t":0.340,"v":0.0278,"s":"Detection Threshold"},{"t":0.370,"v":0.0278,"s":"Detection Threshold"},{"t":0.394,"v":0.0277,"s":"Detection Threshold"},{"t":0.405,"v":0.0264,"s":"Detection Threshold"},{"t":0.430,"v":0.0252,"s":"Detection Threshold"},{"t":0.445,"v":0.027,"s":"Detection Threshold"},{"t":0.470,"v":0.0277,"s":"Detection Threshold"},{"t":0.490,"v":0.0275,"s":"Detection Threshold"},{"t":0.500,"v":0.0268,"s":"Detection Threshold"},{"t":0.512,"v":0.0268,"s":"Detection Threshold"},{"t":0.530,"v":0.0289,"s":"Detection Threshold"},{"t":0.545,"v":0.026,"s":"Detection Threshold"},{"t":0.560,"v":0.025,"s":"Detection Threshold"},{"t":0.580,"v":0.0244,"s":"Detection Threshold"},{"t":0.600,"v":0.0205,"s":"Detection Threshold"},{"t":0.615,"v":0.020,"s":"Detection Threshold"},{"t":0.630,"v":0.020,"s":"Detection Threshold"},{"t":0.650,"v":0.0225,"s":"Detection Threshold"},{"t":0.665,"v":0.022,"s":"Detection Threshold"},{"t":0.685,"v":0.0212,"s":"Detection Threshold"},{"t":0.700,"v":0.0205,"s":"Detection Threshold"}
  ]
},
"concat": [
  {
    "width": 536, "height": 158,
    "view": {"stroke": null},
    "title": {"text": "(a)\u00a0 I/Q signals.", "offset": 22},
    "encoding": {
      "x": {"type": "quantitative", "scale": {"domain": [0, 0.7], "nice": false, "zero": false, "range": [10, 536]},
            "axis": {"values": [0, 0.1, 0.2, 0.3, 0.4, 0.5, 0.6, 0.7], "format": ".1~f", "title": "Time (ms)", "titlePadding": 4}},
      "y": {"type": "quantitative", "scale": {"domain": [-0.08, 0.12], "nice": false, "zero": false},
            "axis": {"values": [-0.08, -0.04, 0, 0.04, 0.08, 0.12], "format": ".2~f", "labelExpr": "replace(datum.label, '\u2212', '-')", "title": "Amplitude", "grid": false, "offset": -10, "labelPadding": 6, "minExtent": 35, "maxExtent": 35, "titlePadding": 4}}
    },
    "layer": [
      {
        "data": {"name": "ygrid"},
        "mark": {"type": "rule", "color": "#8a8a8a", "strokeWidth": 0.8, "strokeDash": [3, 3]},
        "encoding": {"y": {"field": "g"}, "x": {"datum": 0}, "x2": {"datum": 0.7}}
      },
      {
        "data": {"name": "iq"},
        "mark": {"type": "line", "strokeWidth": 1.1, "clip": true},
        "encoding": {
          "x": {"field": "t"},
          "y": {"field": "v"},
          "color": {"field": "s", "type": "nominal", "scale": {"domain": ["I", "Q"], "range": ["#0000ff", "#ff0000"]},
                    "legend": {"orient": "none", "legendX": 22, "legendY": 1, "labelOffset": -28, "symbolOffset": 30}}
        }
      },
      {
        "data": {"name": "box"},
        "mark": {"type": "rect", "filled": false, "stroke": "black", "strokeWidth": 2.5, "cornerRadius": 2},
        "encoding": {"x": {"field": "t0"}, "x2": {"field": "t1"}, "y": {"field": "a0"}, "y2": {"field": "a1"}}
      },
      {
        "data": {"name": "frame"},
        "mark": {"type": "rect", "filled": false, "stroke": "black", "strokeWidth": 1.5},
        "encoding": {"x": {"field": "t0"}, "x2": {"field": "t1"}, "y": {"field": "a0"}, "y2": {"field": "a1"}}
      }
    ]
  },
  {
    "width": 536, "height": 158,
    "title": {"text": "(b)\u00a0 Amplitude of I/Q signals.", "offset": 15, "dx": -7},
    "data": {"name": "amp"},
    "mark": {"type": "line", "strokeWidth": 1.2, "clip": true},
    "encoding": {
      "x": {"field": "t", "type": "quantitative", "scale": {"domain": [0, 0.7], "nice": false, "zero": false},
            "axis": {"values": [0, 0.1, 0.2, 0.3, 0.4, 0.5, 0.6, 0.7], "format": ".1~f", "title": "Time (ms)", "titlePadding": 4}},
      "y": {"field": "v", "type": "quantitative", "scale": {"domain": [0, 0.08], "nice": false, "zero": false},
            "axis": {"values": [0, 0.02, 0.04, 0.06, 0.08], "format": ".2~f", "title": "Amplitude", "labelPadding": 5, "minExtent": 30, "maxExtent": 30, "titlePadding": 2}},
      "color": {"field": "s", "type": "nominal", "scale": {"domain": ["RFID Signal", "Detection Threshold"], "range": ["#000000", "#ff0000"]},
                "legend": {"orient": "none", "legendX": 12, "legendY": 2, "labelOffset": -30, "symbolOffset": 153}},
      "strokeDash": {"field": "s", "type": "nominal", "scale": {"domain": ["RFID Signal", "Detection Threshold"], "range": [[1, 0], [7, 5]]},
                "legend": {"orient": "none", "legendX": 12, "legendY": 2, "labelOffset": -30, "symbolOffset": 153}}
    }
  }
]
}
